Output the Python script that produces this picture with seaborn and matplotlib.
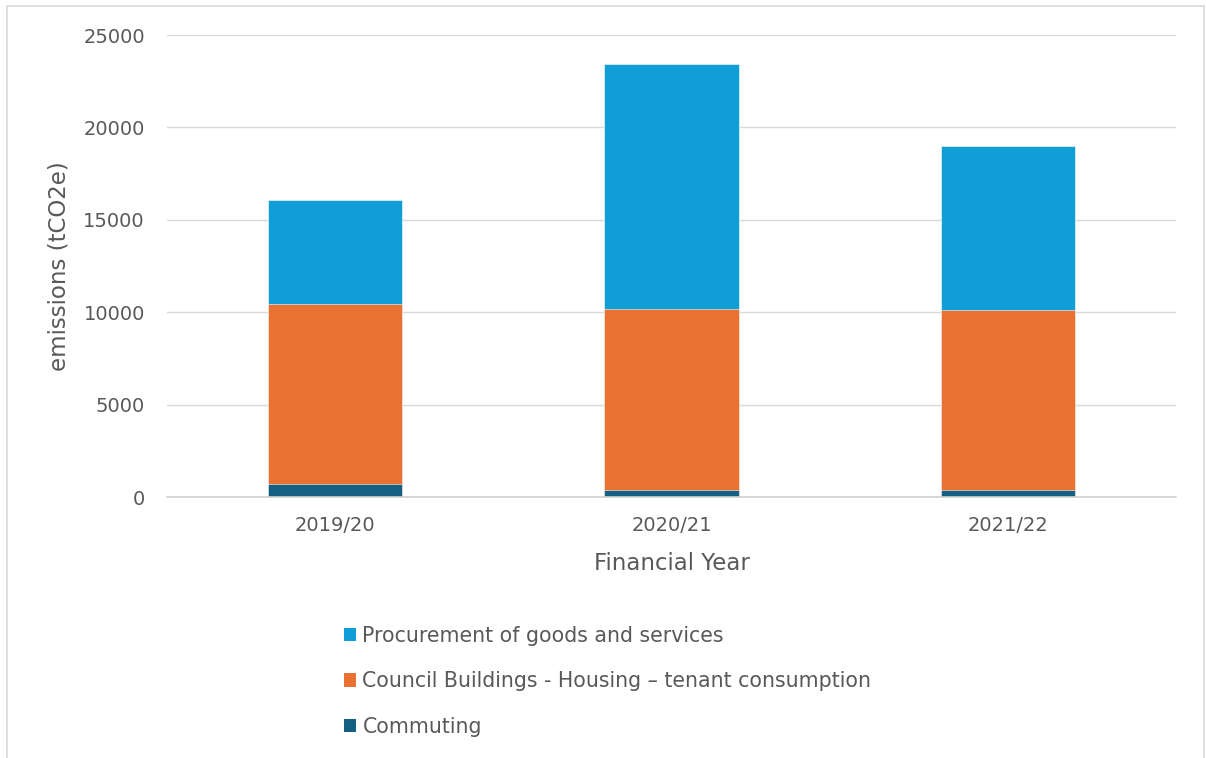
import numpy as np
import pandas as pd
import seaborn as sns
import matplotlib.pyplot as plt
from matplotlib.patches import Patch, Rectangle

years = ["2019/20", "2020/21", "2021/22"]
commuting = [720, 400, 400]
council = [9720, 9760, 9700]
procurement = [5630, 13270, 8890]

series_names = ["Procurement of goods and services",
                "Council Buildings - Housing \u2013 tenant consumption",
                "Commuting"]
colors = ["#0F9ED5", "#E97132", "#156082"]

df = pd.DataFrame({"year": years, "commuting": commuting,
                   "council": council, "procurement": procurement})
# cumulative tops for stacking (draw tallest first)
df["top_comm"] = df["commuting"]
df["top_council"] = df["commuting"] + df["council"]
df["top_proc"] = df["top_council"] + df["procurement"]

sns.set_style("white")
plt.rcParams["font.family"] = ["DejaVu Sans"]
text_col = "#595959"

fig = plt.figure(figsize=(12.06, 7.58), dpi=100)
ax = fig.add_axes([0.1385, 0.3443, 0.8366, 0.6095])

for col, c in zip(["top_proc", "top_council", "top_comm"], colors):
    sns.barplot(data=df, x="year", y=col, color=c, width=0.40,
                edgecolor="white", linewidth=0.4, saturation=1, ax=ax)

ax.set_ylim(0, 25000)
ax.set_xlim(-0.5, 2.5)
ax.set_yticks(np.arange(0, 25001, 5000))
ax.grid(axis="y", color="#d9d9d9", linewidth=1.0)
ax.set_axisbelow(True)
for s in ["top", "right", "left"]:
    ax.spines[s].set_visible(False)
ax.spines["bottom"].set_color("#d0d0d0")
ax.spines["bottom"].set_linewidth(1.2)

ax.set_xticks([-0.5, 0.5, 1.5, 2.5], minor=True)
ax.tick_params(axis="x", which="minor", length=7, color="#d0d0d0", width=1.2)
ax.tick_params(axis="x", which="major", length=0, pad=14, labelsize=14, labelcolor=text_col)
ax.tick_params(axis="y", length=0, pad=16, labelsize=14, labelcolor=text_col)

ax.set_xlabel("Financial Year", fontsize=16.5, color=text_col, labelpad=12)
ax.set_ylabel("emissions (tCO2e)", fontsize=16.5, color=text_col, labelpad=9)

handles = [Patch(facecolor=c, edgecolor="none") for c in colors]
fig.legend(handles, series_names, loc="upper left",
           bbox_to_anchor=(325 / 1206, 1 - 607 / 758), frameon=False,
           fontsize=14.8, labelcolor=text_col, handlelength=0.62, handleheight=0.62,
           handletextpad=0.3, labelspacing=1.25)

# outer chart border
fig.patches.append(Rectangle((7 / 1206, -0.01), 1197 / 1206, 1 - 6 / 758 + 0.01,
                             transform=fig.transFigure, fill=False,
                             edgecolor="#d9d9d9", linewidth=1.2))

plt.savefig("out.png", dpi=100)
